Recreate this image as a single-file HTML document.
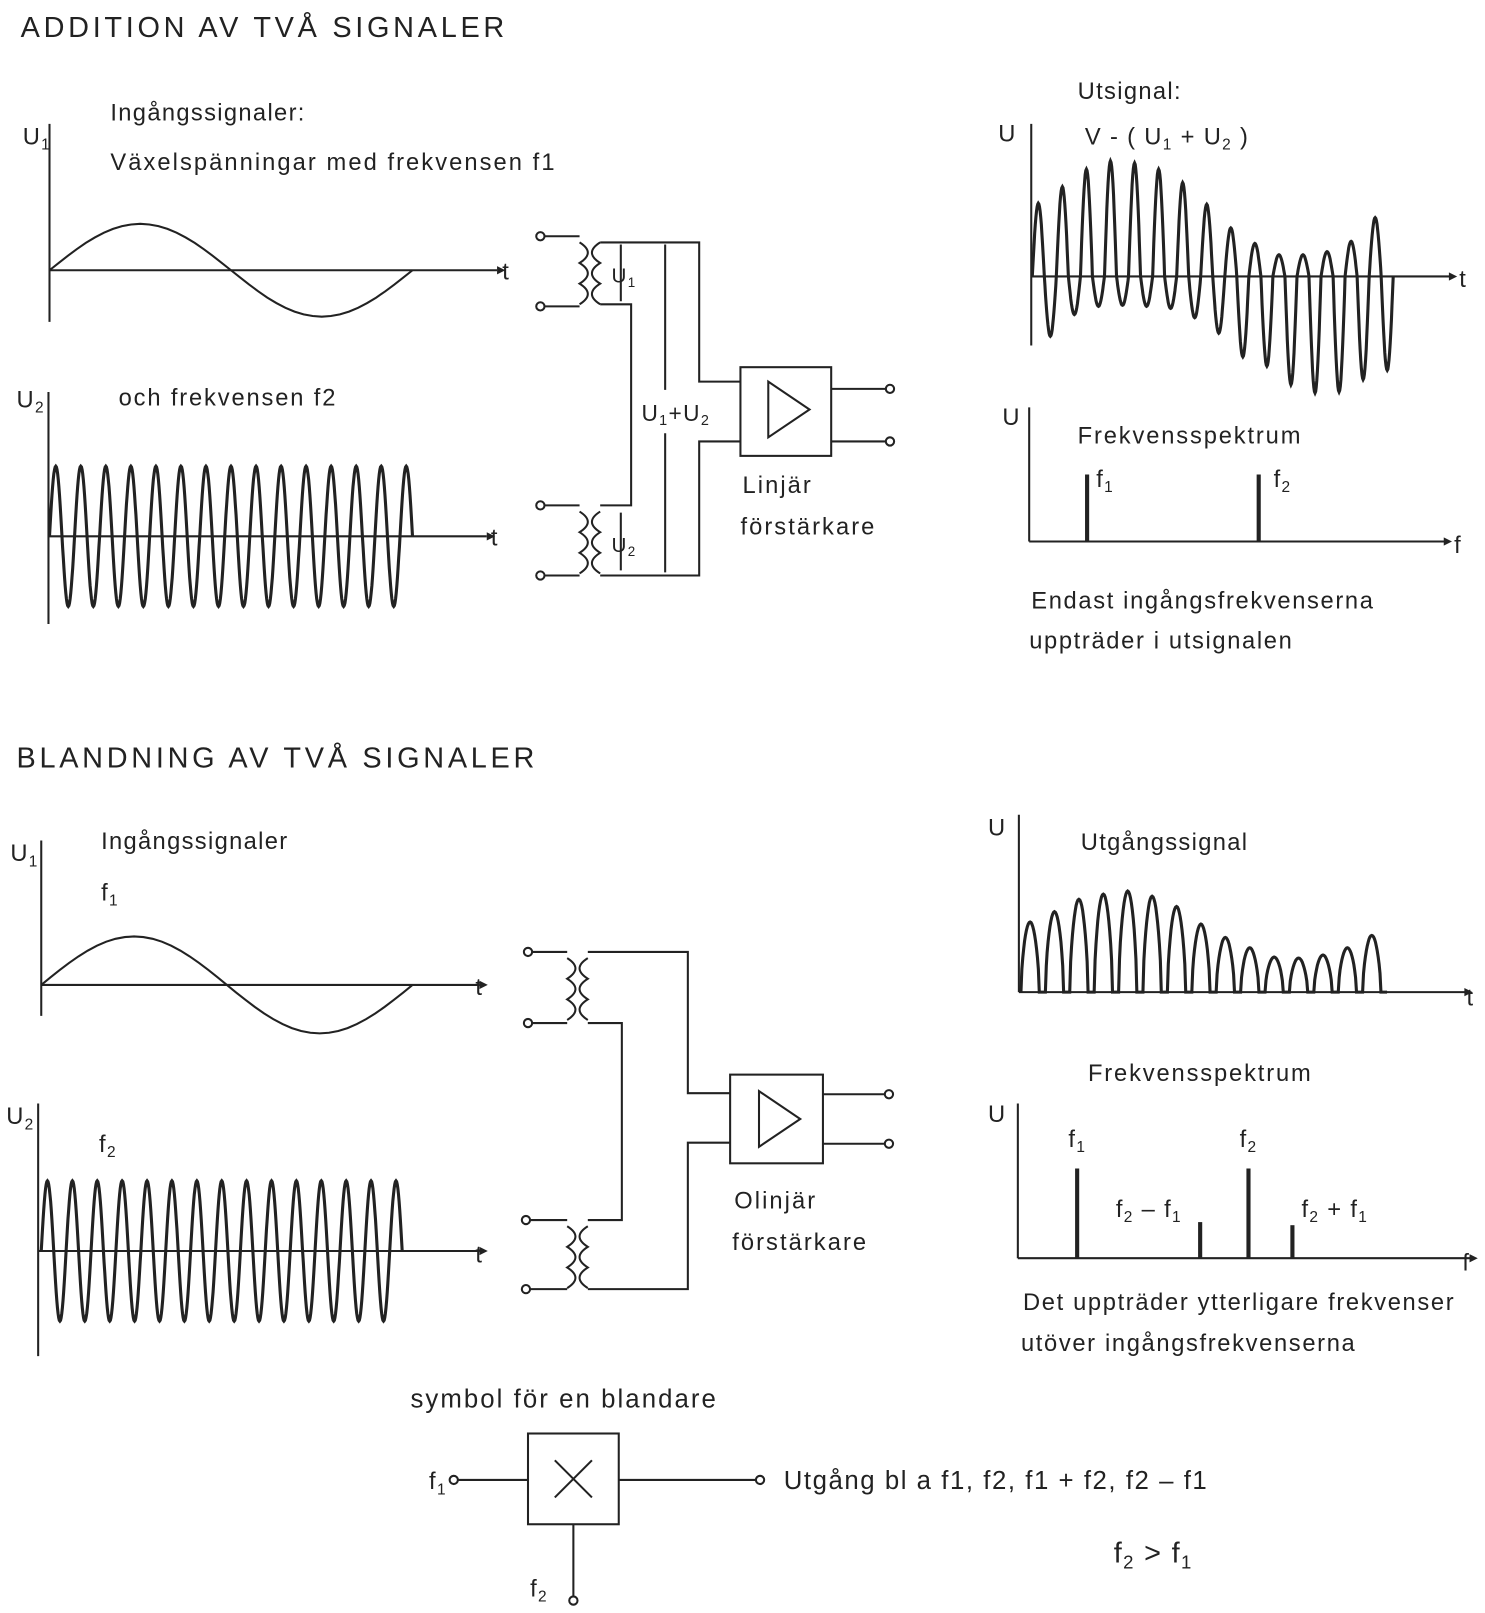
<!DOCTYPE html>
<html><head><meta charset="utf-8"><style>
html,body{margin:0;padding:0;background:#fff}
svg{display:block}
text{font-family:"Liberation Sans",sans-serif;fill:#222;letter-spacing:1.3px}
</style></head><body>
<svg id="s" width="1485" height="1613" viewBox="0 0 1440 1564" xmlns="http://www.w3.org/2000/svg">
<g stroke="#222" stroke-width="2" fill="none" id="static">
<line x1="48" y1="120" x2="48" y2="312"/>
<line x1="48" y1="262" x2="482" y2="262"/>
<line x1="47" y1="380" x2="47" y2="605"/>
<line x1="47" y1="520" x2="472" y2="520"/>
<line x1="1000" y1="120" x2="1000" y2="335"/>
<line x1="1000" y1="268" x2="1408" y2="268"/>
<line x1="998" y1="395" x2="998" y2="525"/>
<line x1="998" y1="525" x2="1405" y2="525"/>
<line x1="40" y1="815" x2="40" y2="985"/>
<line x1="40" y1="955" x2="465" y2="955"/>
<line x1="37" y1="1070" x2="37" y2="1315"/>
<line x1="37" y1="1213" x2="465" y2="1213"/>
<line x1="988" y1="790" x2="988" y2="962"/>
<line x1="988" y1="962" x2="1425" y2="962"/>
<line x1="987" y1="1070" x2="987" y2="1220"/>
<line x1="987" y1="1220" x2="1430" y2="1220"/>
<g>
<circle cx="524" cy="229" r="4"/><circle cx="524" cy="297" r="4"/>
<path d="M528 229 H562 M528 297 H562"/>
<path d="M562 235 q16 10 0 20 q16 10 0 20 q16 10 0 20"/>
<path d="M582 235 q-16 10 0 20 q-16 10 0 20 q-16 10 0 20"/>
<path d="M582 235 H678 V370 H718 M582 295 H612 V490 H582"/>
<rect x="718" y="356" width="88" height="86"/>
<path d="M745 370 L785 397 L745 424 Z"/>
<path d="M806 377 H859 M806 428 H859"/>
<circle cx="863" cy="377" r="4"/><circle cx="863" cy="428" r="4"/>
<circle cx="524" cy="490" r="4"/><circle cx="524" cy="558" r="4"/>
<path d="M528 490 H562 M528 558 H562"/>
<path d="M562 496 q16 10 0 20 q16 10 0 20 q16 10 0 20"/>
<path d="M582 496 q-16 10 0 20 q-16 10 0 20 q-16 10 0 20"/>
<path d="M582 558 H678 V428 H718"/>
<path d="M645 237 V378 M645 420 V555"/>
<path d="M602 237 V292 M602 497 V553"/>
</g>
<g>
<circle cx="512" cy="923" r="4"/><circle cx="512" cy="992" r="4"/>
<path d="M516 923 H550 M516 992 H550"/>
<path d="M550 929 q16 10 0 20 q16 10 0 20 q16 10 0 20"/>
<path d="M570 929 q-16 10 0 20 q-16 10 0 20 q-16 10 0 20"/>
<path d="M570 923 H667 V1060 H708 M570 992 H603 V1183 H570"/>
<rect x="708" y="1042" width="90" height="86"/>
<path d="M736 1058 L776 1085 L736 1112 Z"/>
<path d="M798 1061 H858 M798 1109 H858"/>
<circle cx="862" cy="1061" r="4"/><circle cx="862" cy="1109" r="4"/>
<circle cx="510" cy="1183" r="4"/><circle cx="510" cy="1250" r="4"/>
<path d="M514 1183 H550 M514 1250 H550"/>
<path d="M550 1189 q16 10 0 20 q16 10 0 20 q16 10 0 20"/>
<path d="M570 1189 q-16 10 0 20 q-16 10 0 20 q-16 10 0 20"/>
<path d="M570 1250 H667 V1108 H708"/>
</g>
<g>
<rect x="512" y="1390" width="88" height="88"/>
<path d="M538 1416 L574 1452 M574 1416 L538 1452"/>
<circle cx="440" cy="1435" r="4"/><path d="M444 1435 H512 M600 1435 H733"/>
<circle cx="737" cy="1435" r="4"/>
<path d="M556 1478 V1548"/><circle cx="556" cy="1552" r="4"/>
</g>
</g>
<g fill="#222">
<path d="M482 258 L490 262 L482 266 Z M472 516 L480 520 L472 524 Z M1405 264 L1413 268 L1405 272 Z M1400 521 L1408 525 L1400 529 Z M465 951 L473 955 L465 959 Z M465 1209 L473 1213 L465 1217 Z M1420 958 L1428 962 L1420 966 Z M1425 1216 L1433 1220 L1425 1224 Z"/>
</g>
<g id="marks" fill="none" stroke="#222" stroke-width="3"></g>
<g font-size="23">
<text x="20" y="36" font-size="28" style="letter-spacing:3.6px">ADDITION AV TVÅ SIGNALER</text>
<text x="107" y="117">Ingångssignaler:</text>
<text x="107" y="165" style="letter-spacing:2px">Växelspänningar med frekvensen f1</text>
<text x="22" y="140">U<tspan font-size="15" dy="5">1</tspan></text>
<text x="487" y="271">t</text>
<text x="16" y="395">U<tspan font-size="15" dy="5">2</tspan></text>
<text x="115" y="393" style="letter-spacing:1.8px">och frekvensen f2</text>
<text x="476" y="529">t</text>
<text x="593" y="274" font-size="20">U<tspan font-size="13" dy="4">1</tspan></text>
<text x="593" y="535" font-size="20">U<tspan font-size="13" dy="4">2</tspan></text>
<text x="622" y="408" font-size="22">U<tspan font-size="14" dy="4">1</tspan><tspan dy="-4">+U</tspan><tspan font-size="14" dy="4">2</tspan></text>
<text x="720" y="478" style="letter-spacing:2px">Linjär</text>
<text x="718" y="518" style="letter-spacing:2px">förstärkare</text>
<text x="1045" y="96">Utsignal:</text>
<text x="968" y="137">U</text>
<text x="1052" y="140">V  -  (  U<tspan font-size="15" dy="5">1</tspan><tspan dy="-5"> + U</tspan><tspan font-size="15" dy="5">2</tspan><tspan dy="-5">  )</tspan></text>
<text x="1415" y="278">t</text>
<text x="972" y="412">U</text>
<text x="1045" y="430" style="letter-spacing:1.8px">Frekvensspektrum</text>
<text x="1063" y="472">f<tspan font-size="15" dy="5">1</tspan></text>
<text x="1235" y="472">f<tspan font-size="15" dy="5">2</tspan></text>
<text x="1410" y="536">f</text>
<text x="1000" y="590" style="letter-spacing:1.6px">Endast ingångsfrekvenserna</text>
<text x="998" y="629" style="letter-spacing:1.6px">uppträder i utsignalen</text>
<text x="16" y="744" font-size="28" style="letter-spacing:3.6px">BLANDNING AV TVÅ SIGNALER</text>
<text x="98" y="823">Ingångssignaler</text>
<text x="10" y="835">U<tspan font-size="15" dy="5">1</tspan></text>
<text x="98" y="873">f<tspan font-size="15" dy="5">1</tspan></text>
<text x="461" y="965">t</text>
<text x="6" y="1090">U<tspan font-size="15" dy="5">2</tspan></text>
<text x="96" y="1117">f<tspan font-size="15" dy="5">2</tspan></text>
<text x="461" y="1224">t</text>
<text x="712" y="1172" style="letter-spacing:2px">Olinjär</text>
<text x="710" y="1212" style="letter-spacing:2px">förstärkare</text>
<text x="958" y="810">U</text>
<text x="1048" y="824">Utgångssignal</text>
<text x="1422" y="975">t</text>
<text x="1055" y="1048" style="letter-spacing:1.8px">Frekvensspektrum</text>
<text x="958" y="1088">U</text>
<text x="1036" y="1112">f<tspan font-size="15" dy="5">1</tspan></text>
<text x="1202" y="1112">f<tspan font-size="15" dy="5">2</tspan></text>
<text x="1082" y="1180">f<tspan font-size="15" dy="5">2</tspan><tspan dy="-5"> – f</tspan><tspan font-size="15" dy="5">1</tspan></text>
<text x="1262" y="1180">f<tspan font-size="15" dy="5">2</tspan><tspan dy="-5"> + f</tspan><tspan font-size="15" dy="5">1</tspan></text>
<text x="1418" y="1232">f</text>
<text x="992" y="1270" style="letter-spacing:1.6px">Det uppträder ytterligare frekvenser</text>
<text x="990" y="1310" style="letter-spacing:1.6px">utöver ingångsfrekvenserna</text>
<text x="398" y="1365" font-size="25" style="letter-spacing:2px">symbol för en blandare</text>
<text x="416" y="1444">f<tspan font-size="15" dy="5">1</tspan></text>
<text x="514" y="1548">f<tspan font-size="15" dy="5">2</tspan></text>
<text x="760" y="1444" font-size="25" style="letter-spacing:1.5px">Utgång bl a  f1,  f2,  f1  +  f2,  f2  –  f1</text>
<text x="1080" y="1515" font-size="28">f<tspan font-size="18" dy="6">2</tspan><tspan dy="-6"> &gt; f</tspan><tspan font-size="18" dy="6">1</tspan></text>
</g>
</svg>
<script>
// Addition output: per-cycle positive peak and negative trough amplitudes
const addPeaks=[71,87,104,112,110,104,91,70,47,32,21,21,24,34,57];
const addTroughs=[58,37,29,28,29,31,40,55,78,87,105,113,112,100,91];
// Mixing output: rectified pulse heights
const mixPeaks=[68,78,90,95,98,93,83,66,53,43,34,33,36,43,55];
// Spectra
const addSpecFreqs=["f1","f2"];
const addSpecHeights=[65,65];
const mixSpecFreqs=["f1","f2-f1","f2","f2+f1"];
const mixSpecHeights=[87,35,87,32];
const mixSpecPos=[0.27,0.83,1.05,1.25];
const addSpecPos=[0.27,1.07];
// Input sine cycles
const u1Cycles=1, u2Cycles=14.5;

const NS="http://www.w3.org/2000/svg";
const g=document.getElementById('marks');
function mk(d,name,w){const p=document.createElementNS(NS,'path');p.setAttribute('d',d);if(w)p.setAttribute('stroke-width',w);


g.appendChild(p);}
function sine(x0,x1,y0,amp,cyc){let d='';const n=Math.round(cyc*40);for(let i=0;i<=n;i++){const t=i/n;const x=x0+(x1-x0)*t;const y=y0-amp*Math.sin(2*Math.PI*cyc*t);d+=(i?'L':'M')+x.toFixed(1)+' '+y.toFixed(1);}return d;}
mk(sine(48,400,262,45,u1Cycles),'u1-wave',2);
mk(sine(48,400,520,68,u2Cycles),'u2-wave');
mk(sine(40,400,955,47,u1Cycles),'mix-u1-wave',2);
mk(sine(40,390,1213,68,u2Cycles),'mix-u2-wave');
(function(){const x0=1001,x1=1351,y0=268,n=addPeaks.length,per=(x1-x0)/n;let d='';
for(let c=0;c<n;c++){for(let k=0;k<=40;k++){const t=k/40;const s=Math.sin(2*Math.PI*t);const a=s>=0?addPeaks[c]:addTroughs[c];const x=x0+per*(c+t);const y=y0-a*s;d+=(d?'L':'M')+x.toFixed(1)+' '+y.toFixed(1);}}
mk(d,'output-wave');})();
(function(){const x0=990,x1=1345,y0=962,n=mixPeaks.length,per=(x1-x0)/n;let d='';
for(let c=0;c<n;c++){for(let k=0;k<=20;k++){const t=k/20;const x=x0+per*c+per*0.75*t;const y=y0-mixPeaks[c]*Math.pow(Math.sin(Math.PI*t),0.6);d+=(d?'L':'M')+x.toFixed(1)+' '+y.toFixed(1);}d+='L'+(x0+per*(c+1)).toFixed(1)+' '+y0;}
mk(d,'mix-output-wave');})();
addSpecFreqs.forEach((f,i)=>{const x=998+addSpecPos[i]*208;mk('M'+x+' 525 V'+(525-addSpecHeights[i]),'spectral-line-'+f,4);});
mixSpecFreqs.forEach((f,i)=>{const x=987+mixSpecPos[i]*213;mk('M'+x+' 1220 V'+(1220-mixSpecHeights[i]),'spectral-line-'+f,4);});
</script>
</body></html>
